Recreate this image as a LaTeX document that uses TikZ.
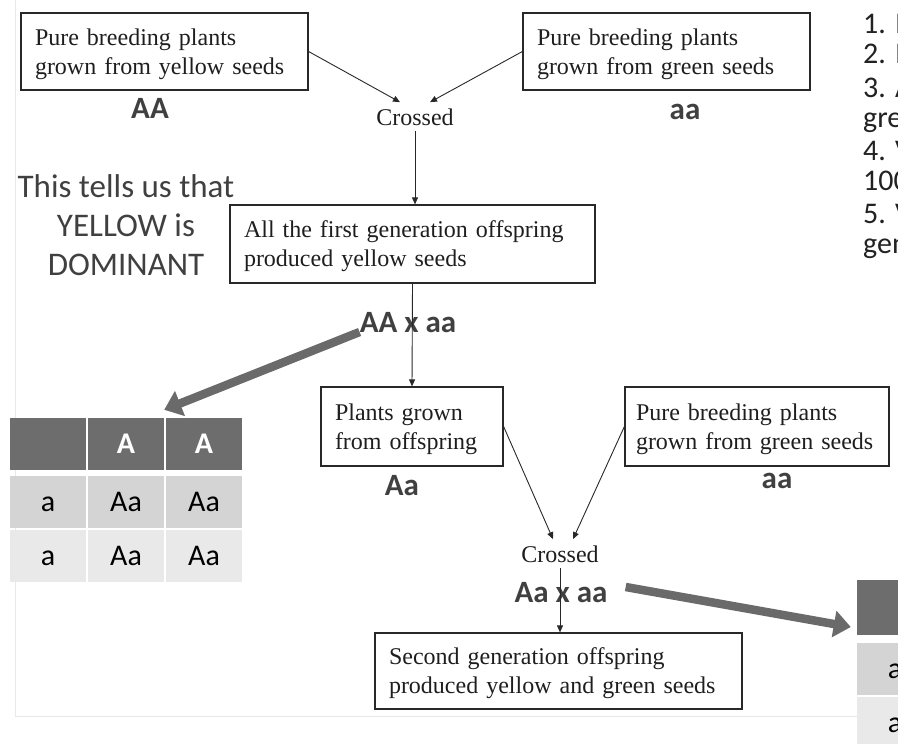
\documentclass[tikz,border=0pt]{standalone}
\usepackage{fontspec}
\setmainfont{Liberation Serif}
\newfontfamily\calib{Carlito}
\usetikzlibrary{arrows.meta}

\begin{document}
\begin{tikzpicture}[x=1pt,y=-1pt,>={Triangle[length=7pt,width=6pt]},
    plantbox/.style={draw=boxline,line width=1.2pt,align=left,inner xsep=14pt,inner ysep=0pt,text=serifink,font=\fontsize{24}{29}\selectfont,execute at begin node={\rule{0pt}{22pt}}},
    crossword/.style={text=serifink,font=\fontsize{24}{29}\selectfont,inner sep=6pt,anchor=base},
    geno/.style={text=labelink,font=\calib\bfseries\fontsize{31}{36}\selectfont,inner sep=0pt,anchor=base},
    thinarrow/.style={->,draw=lineink,line width=0.9pt},
    bigarrow/.style={-{Triangle[length=17pt,width=26pt]},draw=arrowgray,line width=8.5pt},
    notetext/.style={text=noteink,font=\calib\fontsize{30}{36}\selectfont,inner sep=0pt,anchor=base west},
    pcell/.style={minimum width=76pt,minimum height=52pt,inner sep=0pt,text height=19pt,text depth=0pt,font=\calib\fontsize{30}{36}\selectfont}]
            \definecolor{boxline}{RGB}{40,40,40}
            \definecolor{serifink}{RGB}{30,30,30}
            \definecolor{labelink}{RGB}{64,64,64}
            \definecolor{lineink}{RGB}{40,40,40}
            \definecolor{noteink}{RGB}{34,34,34}
            \definecolor{arrowgray}{RGB}{106,106,106}
            \definecolor{headgray}{RGB}{109,109,109}
            \definecolor{rowone}{RGB}{212,212,212}
            \definecolor{rowtwo}{RGB}{233,233,233}
            \definecolor{slideedge}{RGB}{232,232,232}
            \useasboundingbox (0,0) rectangle (898,744);
            \clip (0,0) rectangle (898,744);
            \draw[slideedge,line width=1pt] (15,0) -- (15,716) -- (857,716);
            \node[plantbox,text width=259pt,minimum height=77pt] (yellowbox) at (164.5,51.5) {Pure breeding plants\\grown from yellow seeds};
            \node[plantbox,text width=259pt,minimum height=77pt] (greenbox) at (666.5,51.5) {Pure breeding plants\\grown from green seeds};
            \node[plantbox,text width=337pt,minimum height=78pt] (firstgen) at (412.5,244) {All the first generation offspring\\produced yellow seeds};
            \node[plantbox,text width=154pt,minimum height=79pt] (offspring) at (412,426.5) {Plants grown\\from offspring};
            \node[plantbox,text width=242pt,inner xsep=11pt,minimum height=79pt] (greenboxtwo) at (757,426.5) {Pure breeding plants\\grown from green seeds};
            \node[plantbox,text width=339pt,minimum height=76pt] (secondgen) at (558.5,671) {Second generation offspring\\produced yellow and green seeds};
            \node[crossword] (crossA) at (415,125) {Crossed};
            \node[crossword] (crossB) at (560,562) {Crossed};
            \node[geno] (AAone) at (150,118) {AA};
            \node[geno] (aaone) at (685,119) {aa};
            \node[geno] (AAxaa) at (408,332) {AA x aa};
            \node[geno] (Aaone) at (402,495) {Aa};
            \node[geno] (aatwo) at (777,488) {aa};
            \node[geno] (Aaxaa) at (561,602) {Aa x aa};
            \node[text=labelink,font=\calib\fontsize{33}{39}\selectfont,align=center,inner sep=0pt] (dominant) at (126,225) {This tells us that\\YELLOW is\\DOMINANT};
            \foreach \yy/\txt [count=\i] in {33/1. I,63/2. I,97/3. A,127/gre,160/4. V,190/100,223/5. V,253/gen}
                \node[notetext] (note\i) at (863,\yy) {\txt};
            \foreach \c/\x/\t in {1/48/{},2/126/A,3/204/A}
                \node[pcell,fill=headgray,text=white,font=\calib\bfseries\fontsize{30}{36}\selectfont] (lt-0-\c) at (\x,444) {\t};
            \foreach \r/\y/\f in {1/502/rowone,2/556/rowtwo}
                \foreach \c/\x/\t in {1/48/a,2/126/Aa,3/204/Aa}
                    \node[pcell,fill=\f] (lt-\r-\c) at (\x,\y) {\t};
            \node[pcell,fill=headgray,minimum height=55pt] (rt-0-1) at (895,607) {};
            \node[pcell,fill=rowone] (rt-1-1) at (895,669) {a};
            \node[pcell,fill=rowtwo] (rt-2-1) at (895,723) {a};
            \draw[thinarrow] (yellowbox.east) -- ([xshift=-15pt]crossA.north);
            \draw[thinarrow] (greenbox.west) -- ([xshift=15pt]crossA.north);
            \draw[thinarrow] (crossA.south) -- (crossA.south |- firstgen.north);
            \draw[thinarrow] (firstgen.south) -- (offspring.north);
            \draw[thinarrow] (offspring.east) -- ([xshift=-7pt]crossB.north);
            \draw[thinarrow] (greenboxtwo.west) -- ([xshift=13pt]crossB.north);
            \draw[thinarrow] (crossB.south) -- (crossB.south |- secondgen.north);
            \draw[bigarrow] (AAxaa.base west) -- ([yshift=8pt]lt-0-2.north east);
            \draw[bigarrow] ([shift={(18pt,15pt)}]Aaxaa.base east) -- ([shift={(-6pt,-20pt)}]rt-0-1.west);
        \end{tikzpicture}
\end{document}
